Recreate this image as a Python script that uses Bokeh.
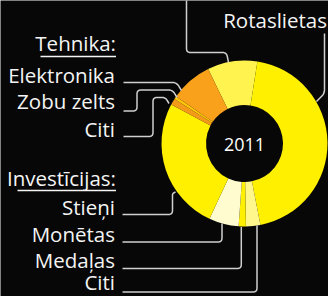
import math, re
from bokeh.plotting import figure
from bokeh.models import ColumnDataSource, Range1d
from bokeh.core.properties import value
from bokeh.embed import file_html
from bokeh.resources import INLINE

# ---- data (clockwise from the top-left boundary) ----
segments = ["Augšā", "Rotaslietas", "Citi (investīcijas)", "Medaļas", "Monētas",
            "Stieņi", "Citi (tehnika)", "Zobu zelts", "Elektronika"]
shares = [9.7, 44.4, 2.8, 1.4, 5.8, 25.8, 1.25, 0.56, 8.2]
colors = ["#FFF34F", "#FFF000", "#FFF68C", "#FFF000", "#FFFCCF",
          "#FFF000", "#F39A1A", "#FFC70A", "#F9A11B"]
year_label = "2011"

tehnika_title = "Tehnika:"
tehnika_items = ["Elektronika", "Zobu zelts", "Citi"]
invest_title = "Investīcijas:"
invest_items = ["Stieņi", "Monētas", "Medaļas", "Citi"]
top_right_label = "Rotaslietas"

W, H = 328, 296
def Y(v):
    return H - v

TEXT_DY = 8.0  # renderer places alphabetic baseline lower; compensate

CX, CY = 244, 143
R_OUT, R_IN = 83, 38.5
START_DEG = -26.0  # clockwise from 12 o'clock

total = sum(shares)
starts, ends = [], []
acc = START_DEG
for s in shares:
    t1 = acc
    t2 = acc + 360.0 * s / total
    acc = t2
    starts.append(math.radians(90 - t2))
    ends.append(math.radians(90 - t1))

src = ColumnDataSource(dict(seg=segments, start=starts, end=ends, color=colors))

p = figure(width=W, height=H, x_range=Range1d(0, W), y_range=Range1d(0, H),
           output_backend="svg", toolbar_location=None, min_border=0,
           x_axis_location=None, y_axis_location=None)
p.grid.visible = False
p.background_fill_color = "#070707"
p.border_fill_color = "#070707"
p.outline_line_color = None

p.annular_wedge(x=CX, y=Y(CY), inner_radius=R_IN, outer_radius=R_OUT,
                start_angle="start", end_angle="end", direction="anticlock",
                fill_color="color", line_color=None, source=src)

p.text(x=[CX], y=[Y(151.5 - TEXT_DY)], text=[year_label], text_color="#ffffff",
       text_font=value("Open Sans"), text_font_size="18px",
       text_align="center", text_baseline="alphabetic")

# ---- leader lines (rounded polylines) ----
def rounded(pts, r=4.0, n=6):
    out = [pts[0]]
    for i in range(1, len(pts) - 1):
        ax, ay = pts[i - 1]; bx, by = pts[i]; cx, cy = pts[i + 1]
        d1 = math.hypot(ax - bx, ay - by); d2 = math.hypot(cx - bx, cy - by)
        rr = min(r, d1 / 2, d2 / 2)
        p1 = (bx + (ax - bx) / d1 * rr, by + (ay - by) / d1 * rr)
        p2 = (bx + (cx - bx) / d2 * rr, by + (cy - by) / d2 * rr)
        for k in range(n + 1):
            t = k / n
            x = (1 - t) ** 2 * p1[0] + 2 * (1 - t) * t * bx + t ** 2 * p2[0]
            y = (1 - t) ** 2 * p1[1] + 2 * (1 - t) * t * by + t ** 2 * p2[1]
            out.append((x, y))
    out.append(pts[-1])
    return [q[0] for q in out], [Y(q[1]) for q in out]

leaders = [
    [(186, -2), (186, 52), (226, 52), (228, 62)],            # top segment
    [(324, 33), (324, 93), (316, 101)],                       # Rotaslietas
    [(123, 82), (176, 82), (181, 90)],                        # Elektronika
    [(123, 110.5), (136.5, 110.5), (136.5, 89.5), (172, 89.5), (176.5, 97)],  # Zobu zelts
    [(123, 136), (152.5, 136), (152.5, 97), (165, 97), (168.5, 103)],          # Citi (teh)
    [(122, 214), (172, 214), (172, 193), (175, 191.5)],       # Stieņi
    [(122, 241.5), (221.5, 241.5), (221.5, 223)],             # Monētas
    [(122, 268.0), (240.8, 268.0), (240.8, 226.5)],           # Medaļas
    [(122, 291.5), (256.5, 291.5), (256.5, 225)],             # Citi (inv)
]
for pts in leaders:
    xs, ys = rounded(pts)
    p.line(xs, ys, line_color="#d0d0d0", line_width=1.5)

# ---- labels ----
FONT = value("Open Sans")
FS = "20.5px"
RIGHT = 114.5

def label(txt, x, yb, align="right"):
    p.text(x=[x], y=[Y(yb - TEXT_DY)], text=[txt], text_color="#f4f4f4", text_font=FONT,
           text_font_size=FS, text_align=align, text_baseline="alphabetic")

label(tehnika_title, RIGHT + 1, 50.5)
p.line([40, 115.5], [Y(56), Y(56)], line_color="#f4f4f4", line_width=1.4)
for txt, yb in zip(tehnika_items, [82.5, 108.5, 136.5]):
    label(txt, RIGHT, yb)

label(invest_title, RIGHT + 1, 185.5)
p.line([17, 115.5], [Y(190), Y(190)], line_color="#f4f4f4", line_width=1.4)
for txt, yb in zip(invest_items, [214.5, 241.5, 267.5, 289.0]):
    label(txt, RIGHT, yb)

label(top_right_label, 326.5, 27)

html = file_html(p, INLINE)
html = re.sub(r"<body[^>]*>", '<body style="margin:0;background:#070707;overflow:hidden">', html, count=1)
open("out.html", "w").write(html)
